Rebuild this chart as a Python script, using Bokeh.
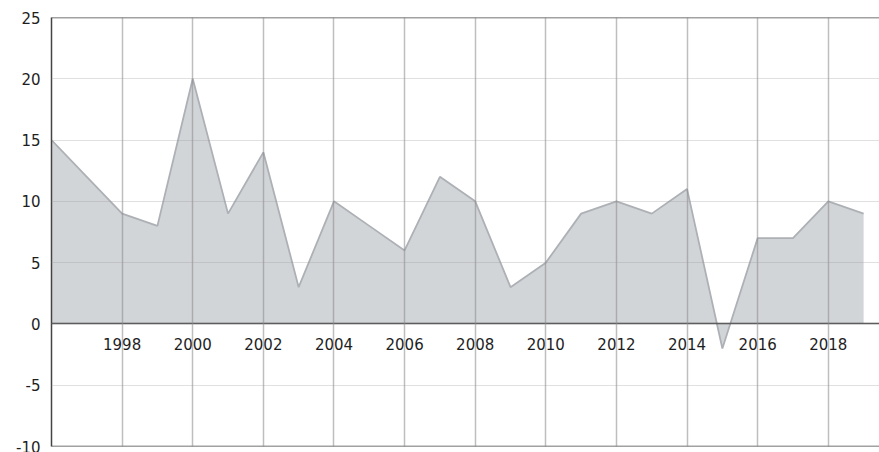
from bokeh.plotting import figure
from bokeh.models import FixedTicker, Span, Range1d
from bokeh.embed import file_html
from bokeh.resources import INLINE

years = list(range(1996, 2020))
values = [15, 12, 9, 8, 20, 9, 14, 3, 10, 8, 6, 12, 10, 3, 5, 9, 10, 9, 11, -2, 7, 7, 10, 9]
x_ticks = [1998, 2000, 2002, 2004, 2006, 2008, 2010, 2012, 2014, 2016, 2018]
y_ticks = [-10, -5, 0, 5, 10, 15, 20, 25]

p = figure(width=879, height=452, output_backend="svg", toolbar_location=None,
           x_range=Range1d(1996, 2019.45), y_range=Range1d(-10, 25),
           min_border_left=51, min_border_top=17, min_border_bottom=6, min_border_right=0)
p.outline_line_color = None
p.background_fill_color = "white"

p.varea(x=years, y1=0, y2=values, fill_color="#d2d5d8")
p.line(x=years, y=values, line_color="#adb0b5", line_width=1.8)

p.xaxis.ticker = FixedTicker(ticks=x_ticks)
p.yaxis.ticker = FixedTicker(ticks=y_ticks)
p.yaxis.major_label_overrides = {t: str(t) for t in y_ticks}
p.xaxis.fixed_location = 0
for ax in (p.xaxis, p.yaxis):
    ax.major_tick_out = 0
    ax.major_tick_in = 0
    ax.minor_tick_out = 0
    ax.minor_tick_in = 0
    ax.major_label_text_font = "DejaVu Sans"
    ax.major_label_text_font_size = "15px"
    ax.major_label_text_color = "#1e1e1e"
    ax.axis_line_color = "#444444"
    ax.axis_line_width = 1.5
p.xaxis.major_label_standoff = 14
p.yaxis.major_label_standoff = 11

p.xgrid.grid_line_color = "#888888"
p.xgrid.grid_line_alpha = 0.55
p.xgrid.grid_line_width = 1.5
p.xgrid.level = "overlay"
p.ygrid.grid_line_color = "#999999"
p.ygrid.grid_line_alpha = 0.3
p.ygrid.level = "overlay"

p.add_layout(Span(location=25, dimension="width", line_color="#444444", line_width=1.5))
p.add_layout(Span(location=-10, dimension="width", line_color="#444444", line_width=1.5))

open("out.html", "w").write(file_html(p, INLINE))
